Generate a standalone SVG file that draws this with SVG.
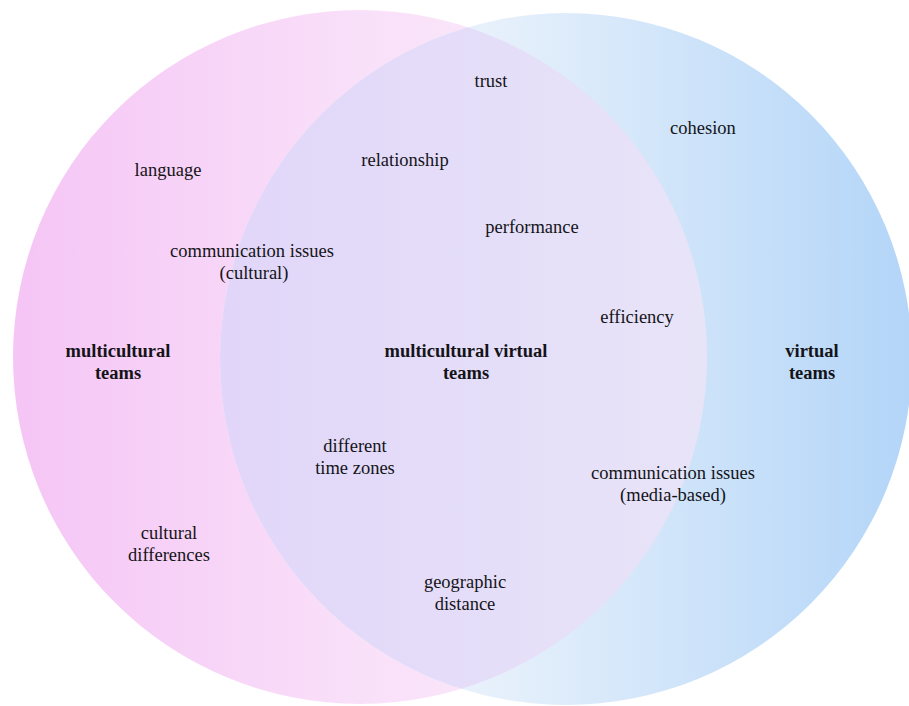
<svg xmlns="http://www.w3.org/2000/svg" width="909" height="706" viewBox="0 0 909 706">
<defs>
<linearGradient id="gL" x1="0" y1="0" x2="1" y2="0">
<stop offset="0" stop-color="#f5c5f5"/>
<stop offset="0.5" stop-color="#f9e0f9"/>
<stop offset="1" stop-color="#fcf0fb"/>
</linearGradient>
<linearGradient id="gR" x1="0" y1="0" x2="1" y2="0">
<stop offset="0" stop-color="#f2f0fb"/>
<stop offset="0.4" stop-color="#e6f0fb"/>
<stop offset="1" stop-color="#b3d5f8"/>
</linearGradient>
<linearGradient id="gM" gradientUnits="userSpaceOnUse" x1="221" y1="0" x2="707" y2="0">
<stop offset="0" stop-color="#e1d6f9"/>
<stop offset="1" stop-color="#e8e4f8"/>
</linearGradient>
<clipPath id="clipL"><circle cx="360" cy="357" r="347"/></clipPath>
<style>
.t{font-size:18.5px;fill:#141418;text-anchor:middle}
.b{font-weight:bold}
</style>
</defs>
<rect width="909" height="706" fill="#ffffff"/>
<g id="circle-multicultural"><circle cx="360" cy="357" r="347" fill="url(#gL)"/></g>
<g id="circle-virtual"><circle cx="566" cy="359" r="346" fill="url(#gR)"/></g>
<g id="intersection"><circle cx="566" cy="359" r="346" fill="url(#gM)" clip-path="url(#clipL)"/></g>
<g id="connectors"></g>
<g id="labels">
<text class="t" font-family="Liberation Serif" x="491" y="87">trust</text>
<text class="t" font-family="Liberation Serif" x="703" y="134">cohesion</text>
<text class="t" font-family="Liberation Serif" x="405" y="166">relationship</text>
<text class="t" font-family="Liberation Serif" x="168" y="176">language</text>
<text class="t" font-family="Liberation Serif" x="532" y="233">performance</text>
<text class="t" font-family="Liberation Serif" x="252" y="257">communication issues</text>
<text class="t" font-family="Liberation Serif" x="254" y="279">(cultural)</text>
<text class="t" font-family="Liberation Serif" x="637" y="323">efficiency</text>
<text class="t b" font-family="Liberation Serif" x="118" y="357">multicultural</text>
<text class="t b" font-family="Liberation Serif" x="118" y="379">teams</text>
<text class="t b" font-family="Liberation Serif" x="466" y="357">multicultural virtual</text>
<text class="t b" font-family="Liberation Serif" x="466" y="379">teams</text>
<text class="t b" font-family="Liberation Serif" x="812" y="357">virtual</text>
<text class="t b" font-family="Liberation Serif" x="812" y="379">teams</text>
<text class="t" font-family="Liberation Serif" x="355" y="452">different</text>
<text class="t" font-family="Liberation Serif" x="355" y="474">time zones</text>
<text class="t" font-family="Liberation Serif" x="673" y="479">communication issues</text>
<text class="t" font-family="Liberation Serif" x="673" y="501">(media-based)</text>
<text class="t" font-family="Liberation Serif" x="169" y="539">cultural</text>
<text class="t" font-family="Liberation Serif" x="169" y="561">differences</text>
<text class="t" font-family="Liberation Serif" x="465" y="588">geographic</text>
<text class="t" font-family="Liberation Serif" x="465" y="610">distance</text>
</g>
</svg>
